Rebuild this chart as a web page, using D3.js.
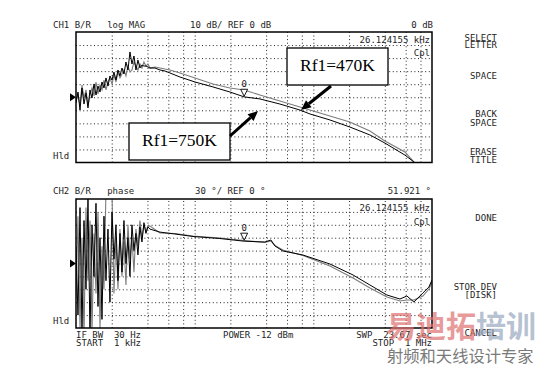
<!DOCTYPE html>
<html>
<head>
<meta charset="utf-8">
<script src="https://cdn.jsdelivr.net/npm/d3@7"></script>
<style>
body { margin: 0; background: #fff; }
svg text { font-family: "DejaVu Sans Mono", monospace; font-size: 9px; fill: #1e1e1e; }
</style>
</head>
<body>
<svg id="chart"></svg>
<script>
// frequencies in kHz (log sweep 1 kHz .. 1 MHz)
const magFreqs = [1.000,1.039,1.081,1.123,1.168,1.214,1.262,1.312,1.364,1.418,1.474,1.532,1.593,1.656,1.721,1.789,1.860,1.933,2.010,2.089,2.172,2.258,2.347,2.440,2.536,2.636,2.741,2.849,2.962,3.079,3.200,3.327,3.459,3.595,3.737,3.885,4.039,
  4.198,4.63,5.10,5.62,6.19,7.52,10.06,14.27,19.83,26.1,35.5,52.3,77.1,93.6,138,203,300,401,591,704,1000];
// CH1 log MAG, dB (data trace, black)
const magData = [-4.4,4.0,-9.8,7.1,-5.2,3.3,-8.2,5.6,-0.6,10.2,1.7,8.6,4.0,11.7,7.1,14.8,8.6,16.3,13.2,19.3,13.2,20.9,16.3,22.4,17.8,27.0,20.9,34.7,25.5,31.6,20.9,28.5,22.4,24.7,23.9,23.9,23.2,
  22.4,22.4,20.9,20.1,18.6,15.5,11.7,7.9,4.0,0.3,-1.3,-5.2,-9.8,-12.8,-17.4,-22.8,-28.9,-35.1,-44.3,-49.6,-61.9];
// CH1 memory trace, dB (grey)
const magMemory = [-2.1,1.7,-5.9,9.4,-0.6,5.6,-6.7,1.7,7.1,1.0,11.7,2.5,9.4,5.6,13.2,5.6,11.7,14.8,10.2,17.0,11.7,19.3,14.8,17.8,20.9,16.3,23.9,19.3,20.9,27.0,23.9,20.9,25.5,22.4,27.0,23.9,25.5,
  22.4,23.2,22.4,21.6,20.9,18.6,14.8,10.2,7.1,5.6,1.7,-2.9,-7.5,-9.8,-14.4,-19.0,-25.9,-33.5,-41.9,-49.6,-62.0];

const phaseFreqs = [1.000,1.039,1.081,1.123,1.168,1.214,1.262,1.312,1.364,1.418,1.474,1.532,1.593,1.656,1.721,1.789,1.860,1.933,2.010,2.089,2.172,2.258,2.347,2.440,2.536,2.636,2.741,2.849,2.962,3.079,3.200,3.327,3.459,3.595,3.737,3.885,4.039,
  4.20,5.10,6.82,9.68,16.3,26.1,39.1,43.9,47.5,55.4,81.7,138,216,300,417,537,614,704,838,942,1000];
// CH2 phase, degrees (data trace, black)
const phaseData = [40,-120,130,-160,100,-60,150,-170,90,-30,140,-100,60,-130,110,-40,80,-90,120,10,90,-40,70,-20,100,0,60,-30,90,30,70,20,85,50,95,70,85,
  80,73,68.6,62.8,58.1,51.9,50.0,54.7,40.7,29.1,19.8,-1.2,-26.7,-50,-73.3,-82.6,-75.6,-89.5,-68.6,-54.7,-38.4];
// CH2 memory trace, degrees (grey)
const phaseMemory = [-80,110,-150,60,-170,130,-40,100,-160,70,-70,120,-150,40,-60,170,170,170,165,-70,60,-60,80,-30,50,-50,90,10,60,-20,80,40,100,60,90,75,88,
  87,71,69.8,64,59.3,53.5,48.8,52.3,41.9,31.4,18.6,-5.8,-33.7,-57,-77.9,-87.2,-84.9,-84.9,-75.6,-59.3,-43];

const gridFreqs = [2,4,6,8,10,20,40,60,80,100,200,400,600,800];
const magTicks = [-40,-30,-20,-10,0,10,20,30,40];
const phaseTicks = [-120,-90,-60,-30,0,30,60,90,120];
const markerFreq = 26.124155;
const magMarker = 0;
const phaseMarker = 51.921;

class AnalyzerPanel {

    constructor( config, data ) {
        this.config = {
            parent: config.parent,
            id: config.id,
            left: config.left,
            top: config.top,
            width: config.width,
            height: config.height,
            ydomain: config.ydomain,
            yticks: config.yticks
        }
        this.data = data;
        this.init();
    }

    init() {
        let self = this;
        const c = self.config;

        self.chart = c.parent.append('g')
            .attr('transform', `translate(${c.left}, ${c.top})`);

        self.xscale = d3.scaleLog()
            .domain([1, 1000])
            .range([0, c.width]);

        self.yscale = d3.scaleLinear()
            .domain(c.ydomain)
            .range([c.height, 0]);

        self.chart.append('clipPath')
            .attr('id', 'clip-' + c.id)
            .append('rect')
            .attr('width', c.width)
            .attr('height', c.height);

        self.xgrid = d3.axisBottom(self.xscale)
            .tickValues(gridFreqs)
            .tickSize(-c.height)
            .tickFormat('')
            .tickSizeOuter(0);

        self.ygrid = d3.axisLeft(self.yscale)
            .tickValues(c.yticks)
            .tickSize(-c.width)
            .tickFormat('')
            .tickSizeOuter(0);

        self.line = d3.line()
            .x(d => self.xscale(d.f))
            .y(d => self.yscale(d.v));
    }

    render() {
        let self = this;
        const c = self.config;

        const xg = self.chart.append('g')
            .attr('transform', `translate(0, ${c.height})`)
            .call(self.xgrid);
        const yg = self.chart.append('g')
            .call(self.ygrid);
        [xg, yg].forEach(g => {
            g.select('.domain').remove();
            g.selectAll('line')
                .attr('stroke', '#222')
                .attr('stroke-width', 1)
                .attr('stroke-dasharray', '1,2.6');
        });

        const traces = self.chart.append('g')
            .attr('clip-path', `url(#clip-${c.id})`);

        traces.append('path')
            .attr('d', self.line(self.data.memory))
            .attr('fill', 'none')
            .attr('stroke', '#7c7c7c')
            .attr('stroke-width', 1.1);

        traces.append('path')
            .attr('d', self.line(self.data.trace))
            .attr('fill', 'none')
            .attr('stroke', '#000')
            .attr('stroke-width', 1);

        // frame
        self.chart.append('rect')
            .attr('width', c.width)
            .attr('height', c.height)
            .attr('fill', 'none')
            .attr('stroke', '#000')
            .attr('stroke-width', 1.5);

        // reference position arrow
        const yref = self.yscale(0);
        self.chart.append('path')
            .attr('d', `M-6,${yref - 4}L0,${yref}L-6,${yref + 4}Z`)
            .attr('fill', '#000');

        // marker 0
        const mx = self.xscale(markerFreq);
        const my = self.yscale(self.data.marker) - 1;
        self.chart.append('path')
            .attr('d', `M${mx - 3.5},${my - 7}L${mx + 3.5},${my - 7}L${mx},${my}Z`)
            .attr('fill', '#fff')
            .attr('stroke', '#000')
            .attr('stroke-width', 0.9);
        self.chart.append('text')
            .attr('x', mx)
            .attr('y', my - 9)
            .attr('text-anchor', 'middle')
            .text('0');
    }
}

const svg = d3.select('#chart')
    .attr('width', 540)
    .attr('height', 366);

const zip = (fs, vs) => fs.map((f, i) => ({f: f, v: vs[i]}));

const magPanel = new AnalyzerPanel(
    {parent: svg, id: 'mag', left: 76, top: 32, width: 356, height: 130.5, ydomain: [-50, 50], yticks: magTicks},
    {trace: zip(magFreqs, magData), memory: zip(magFreqs, magMemory), marker: magMarker});
magPanel.render();

const phasePanel = new AnalyzerPanel(
    {parent: svg, id: 'phase', left: 76, top: 199, width: 356, height: 129, ydomain: [-150, 150], yticks: phaseTicks},
    {trace: zip(phaseFreqs, phaseData), memory: zip(phaseFreqs, phaseMemory), marker: phaseMarker});
phasePanel.render();

// instrument annotation text
const labels = [
    [53, 27.5, 'start', 'CH1 B/R   log MAG'],
    [190, 27.5, 'start', '10 dB/ REF 0 dB'],
    [433, 27.5, 'end', '0 dB'],
    [430, 43, 'end', '26.124155 kHz'],
    [430, 56, 'end', 'Cpl'],
    [53, 159, 'start', 'Hld'],
    [53, 194, 'start', 'CH2 B/R   phase'],
    [195, 194, 'start', '30 °/ REF 0 °'],
    [431, 194, 'end', '51.921 °'],
    [430, 210.5, 'end', '26.124155 kHz'],
    [430, 225, 'end', 'Cpl'],
    [53, 324, 'start', 'Hld'],
    [76, 337.5, 'start', 'IF BW  30 Hz'],
    [76, 345.5, 'start', 'START  1 kHz'],
    [223, 337.5, 'start', 'POWER -12 dBm'],
    [432, 337.5, 'end', 'SWP  23.67 sec'],
    [432, 345.5, 'end', 'STOP  1 MHz'],
    [497, 40.5, 'end', 'SELECT'],
    [497, 48.3, 'end', 'LETTER'],
    [497, 79.3, 'end', 'SPACE'],
    [497, 117.3, 'end', 'BACK'],
    [497, 125.5, 'end', 'SPACE'],
    [497, 155, 'end', 'ERASE'],
    [497, 163.3, 'end', 'TITLE'],
    [497, 220.7, 'end', 'DONE'],
    [497, 290, 'end', 'STOR DEV'],
    [497, 297.5, 'end', '[DISK]'],
    [497, 336, 'end', 'CANCEL']
];
svg.append('g').selectAll('text')
    .data(labels)
    .join('text')
    .attr('x', d => d[0])
    .attr('y', d => d[1])
    .attr('text-anchor', d => d[2])
    .style('white-space', 'pre')
    .text(d => d[3]);

// callout boxes with arrows
const callouts = [
    {box: [129, 123, 101, 37], text: 'Rf1=750K', from: [230, 136], to: [258, 111]},
    {box: [287, 48, 101, 37], text: 'Rf1=470K', from: [331, 86], to: [301, 110]}
];
const callG = svg.append('g');
callouts.forEach(cl => {
    const [bx, by, bw, bh] = cl.box;
    callG.append('rect')
        .attr('x', bx).attr('y', by).attr('width', bw).attr('height', bh)
        .attr('fill', '#fff').attr('stroke', '#000').attr('stroke-width', 1.3);
    callG.append('text')
        .attr('x', bx + bw / 2).attr('y', by + 23)
        .attr('text-anchor', 'middle')
        .style('font-family', '"Liberation Serif", "Times New Roman", serif')
        .style('font-size', '17.5px')
        .style('fill', '#000')
        .text(cl.text);
    const [x1, y1] = cl.from, [x2, y2] = cl.to;
    const ang = Math.atan2(y2 - y1, x2 - x1);
    const hl = 10, hw = 4.5;
    const bxp = x2 - hl * Math.cos(ang), byp = y2 - hl * Math.sin(ang);
    callG.append('line')
        .attr('x1', x1).attr('y1', y1).attr('x2', bxp).attr('y2', byp)
        .attr('stroke', '#000').attr('stroke-width', 3);
    callG.append('path')
        .attr('d', `M${x2},${y2}L${bxp - hw * Math.sin(ang)},${byp + hw * Math.cos(ang)}L${bxp + hw * Math.sin(ang)},${byp - hw * Math.cos(ang)}Z`)
        .attr('fill', '#000');
});

// watermark
const wm = svg.append('text')
    .attr('x', 386).attr('y', 337)
    .style('font-family', '"Noto Sans CJK SC", sans-serif')
    .style('font-size', '30px')
    .style('font-weight', 'bold');
wm.append('tspan').style('fill', 'rgba(222,110,110,0.7)').text('易迪拓');
wm.append('tspan').style('fill', 'rgba(150,165,190,0.7)').text('培训');
svg.append('text')
    .attr('x', 387).attr('y', 362)
    .style('font-family', '"Noto Sans CJK SC", sans-serif')
    .style('font-size', '16.3px')
    .style('fill', '#7a7a7a')
    .text('射频和天线设计专家');
</script>
</body>
</html>
